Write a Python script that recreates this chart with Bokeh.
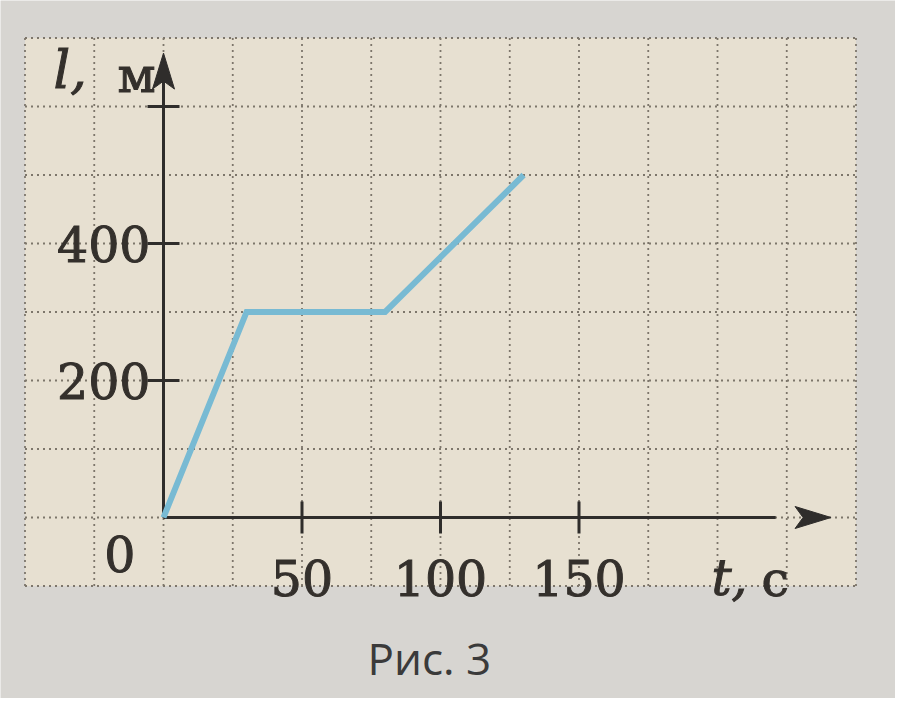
from bokeh.plotting import figure
from bokeh.models import Range1d
from bokeh.core.properties import value
from bokeh.embed import file_html
from bokeh.resources import INLINE

# ---- data -------------------------------------------------------------
t_values = [0, 30, 80, 130]          # time, s
l_values = [0, 300, 300, 500]        # path, m
x_ticks = [50, 100, 150]
x_tick_labels = ["50", "100", "150"]
y_ticks = [200, 400, 600]
y_tick_labels = ["200", "400", ""]
origin_label = "0"
x_axis_name = ("t,", "с")
y_axis_name = ("l,", "м")
caption = "Рис. 3"

# grid extent (data units)
grid_t_min, grid_t_max, grid_t_step = -50, 250, 25
grid_l_min, grid_l_max, grid_l_step = -100, 700, 100
t_axis_end, l_axis_end = 241, 678

# ---- scale ------------------------------------------------------------
W, H = 895, 698
PX_T = 2.77      # px per second
PX_L = 0.685     # px per metre
ox, oy = 163, 517   # origin in frame pixels
x0 = -ox / PX_T
x1 = (W - ox) / PX_T
y1 = oy / PX_L
y0 = -(H - oy) / PX_L

p = figure(width=W, height=H, output_backend="svg", toolbar_location=None,
           x_range=Range1d(x0, x1), y_range=Range1d(y0, y1),
           min_border=0, min_border_left=0, min_border_right=0,
           min_border_top=0, min_border_bottom=0,
           x_axis_location=None, y_axis_location=None)
p.outline_line_color = None
p.grid.visible = False
p.background_fill_color = "#d7d5d1"
p.border_fill_color = "#d7d5d1"

# paper with grid
p.quad(left=[grid_t_min], right=[grid_t_max], bottom=[grid_l_min], top=[grid_l_max],
       fill_color="#e7e0d1", line_color=None)

gx = list(range(grid_t_min, grid_t_max + 1, grid_t_step))
gy = list(range(grid_l_min, grid_l_max + 1, grid_l_step))
p.segment(x0=gx, y0=[grid_l_min] * len(gx), x1=gx, y1=[grid_l_max] * len(gx),
          line_color="#7d766b", line_width=1.8, line_dash="2 4")
p.segment(x0=[grid_t_min] * len(gy), y0=gy, x1=[grid_t_max] * len(gy), y1=gy,
          line_color="#7d766b", line_width=1.8, line_dash="2 4")

axis_color = "#2f2d2b"

# axes lines
p.line([0, t_axis_end - 20], [0, 0], line_color=axis_color, line_width=3)
p.line([0, 0], [0, l_axis_end - 40], line_color=axis_color, line_width=3)

# arrow heads (pixel sized, converted to data)
hl, hw, notch = 36, 11, 8
p.patch([t_axis_end, t_axis_end - hl / PX_T, t_axis_end - (hl - notch) / PX_T, t_axis_end - hl / PX_T],
        [0, hw / PX_L, 0, -hw / PX_L], fill_color=axis_color, line_color=axis_color)
p.patch([0, hw / PX_T, 0, -hw / PX_T],
        [l_axis_end, l_axis_end - hl / PX_L, l_axis_end - (hl - notch) / PX_L, l_axis_end - hl / PX_L],
        fill_color=axis_color, line_color=axis_color)

# ticks
p.scatter(x=x_ticks, y=[0] * len(x_ticks), marker="dash", size=32, angle=1.5708,
          line_color=axis_color, line_width=3)
p.scatter(x=[0] * len(y_ticks), y=y_ticks, marker="dash", size=32,
          line_color=axis_color, line_width=3)

num_font = value("DejaVu Serif")
num_size = value("49px")
text_color = "#34302c"
outline = dict(text_outline_color=text_color)

p.text(x=x_ticks, y=[0] * len(x_ticks), text=x_tick_labels, text_font=num_font,
       text_font_size=num_size, text_color=text_color, **outline,
       text_align="center", text_baseline="middle", y_offset=60)
p.text(x=[0] * len(y_ticks), y=y_ticks, text=y_tick_labels, text_font=num_font,
       text_font_size=num_size, text_color=text_color, **outline,
       text_align="right", text_baseline="middle", x_offset=-13)
p.text(x=[0], y=[0], text=[origin_label], text_font=num_font,
       text_font_size=num_size, text_color=text_color, **outline, text_align="right",
       text_baseline="middle", x_offset=-28, y_offset=36)

# axis names
p.text(x=[0], y=[0], text=[x_axis_name[0]], text_font=num_font,
       text_font_style="italic", text_font_size=value("50px"), text_color=text_color,
       **outline, text_align="left", text_baseline="middle", x_offset=548, y_offset=60)
p.text(x=[0], y=[0], text=[x_axis_name[1]], text_font=num_font,
       text_font_size=num_size, text_color=text_color, **outline,
       text_align="left", text_baseline="middle", x_offset=598, y_offset=62)
p.text(x=[0], y=[0], text=[y_axis_name[0]], text_font=num_font,
       text_font_style="italic", text_font_size=value("52px"), text_color=text_color,
       **outline, text_align="left", text_baseline="middle", x_offset=-110, y_offset=-448)
p.text(x=[0], y=[0], text=[y_axis_name[1]], text_font=num_font,
       text_font_size=num_size, text_color=text_color, **outline,
       text_align="left", text_baseline="middle", x_offset=-46, y_offset=-442)

# the graph
p.line(t_values, l_values, line_color="#78bad3", line_width=6, line_join="miter")

# caption
p.text(x=[96], y=[grid_l_min], text=[caption], text_font=value("Open Sans"),
       text_font_size=value("44px"), text_color="#3a3a3a", text_align="center",
       text_baseline="middle", y_offset=72)

open("out.html", "w").write(file_html(p, INLINE))
